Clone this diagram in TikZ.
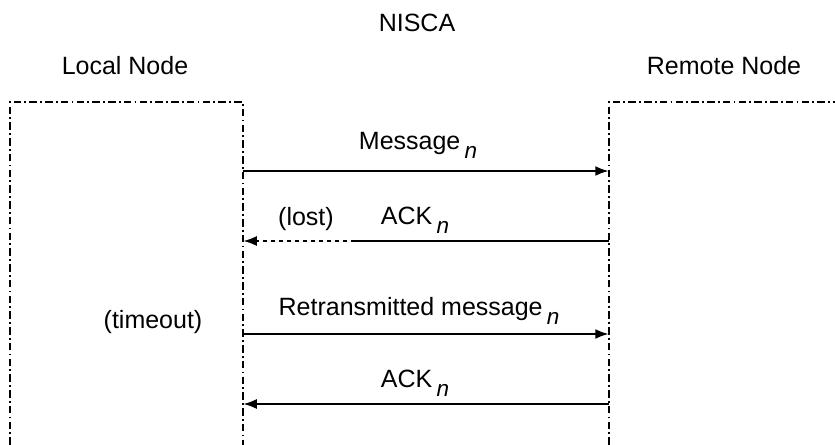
\documentclass[tikz,border=0pt]{standalone}
\usepackage{fontspec}
\setmainfont{Liberation Sans}
\usetikzlibrary{arrows.meta}
\newcommand{\nsub}{\,\raisebox{-3.5pt}{\small\textit{n}}}

\begin{document}
\begin{tikzpicture}[x=0.4pt,y=-0.4pt,
  lifeline/.style={line width=1pt,dash pattern=on 3pt off 1.3pt on 0.7pt off 1.3pt},
  msg/.style={line width=1pt,-{Latex[length=5.5pt,width=4pt]}},
  lostmsg/.style={msg,dash pattern=on 1.6pt off 1.6pt},
  lbl/.style={anchor=base,inner sep=0pt}]
\useasboundingbox (0,0) rectangle (835,445);
% Titles
\node[lbl] (title) at (417,32) {NISCA};
\node[lbl] (localtitle) at (125,75) {Local Node};
\node[lbl] (remotetitle) at (724,75) {Remote Node};
% Node boxes (open at the bottom / right)
\draw[lifeline] (10,445) -- (10,102) -- (243,102) -- (243,445);
\draw[lifeline] (609,445) -- (609,102) -- (835,102);
% End points on the two boxes
\coordinate (msgL) at (243,171);  \coordinate (msgR) at (609,171);
\coordinate (ackL) at (243,241);  \coordinate (ackR) at (609,241);
\coordinate (ackcut) at (355,241);
\coordinate (retL) at (243,334);  \coordinate (retR) at (609,334);
\coordinate (ack2L) at (243,404); \coordinate (ack2R) at (609,404);
% Message exchange
\draw[msg] (msgL) -- (msgR);
\node[lbl] (msglbl) at (418,150) {Message\nsub};
\draw[line width=1pt] (ackR) -- (ackcut);
\draw[lostmsg] (ackcut) -- (ackL);
\node[lbl] (acklbl) at (415,225) {ACK\nsub};
\node[lbl] (lostlbl) at (306,226) {(lost)};
\node[lbl] (timeoutlbl) at (153,329) {(timeout)};
\draw[msg] (retL) -- (retR);
\node[lbl] (retlbl) at (419,316) {Retransmitted message\nsub};
\draw[msg] (ack2R) -- (ack2L);
\node[lbl] (ack2lbl) at (415,388) {ACK\nsub};
\end{tikzpicture}
\end{document}
